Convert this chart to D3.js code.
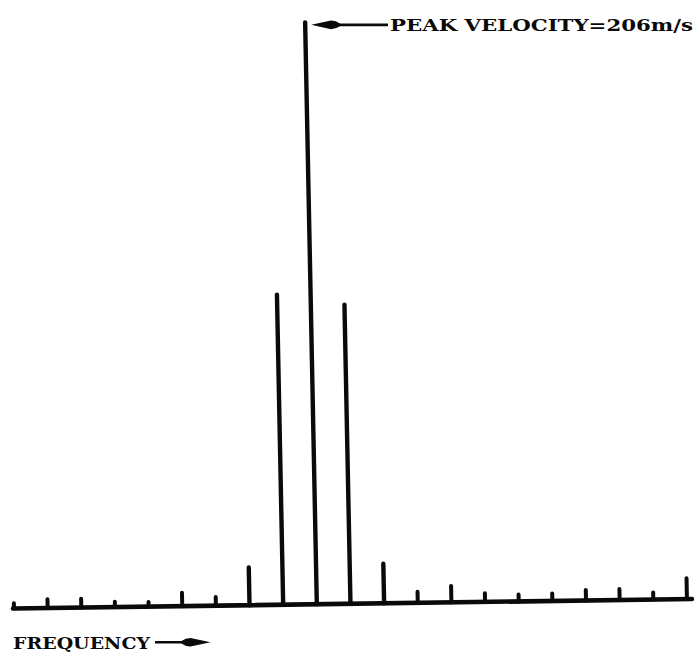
<!DOCTYPE html>
<html>
<head>
<meta charset="utf-8">
<script src="https://cdn.jsdelivr.net/npm/d3@7"></script>
<style>
  html, body { margin: 0; padding: 0; background: #fff; }
  svg { display: block; }
</style>
</head>
<body>
<script>
// Doppler spectrum: relative amplitude of each frequency bin (peak bin = 100)
const bins = [0, 1, 2, 3, 4, 5, 6, 7, 8, 9, 10, 11, 12, 13, 14, 15, 16, 17, 18, 19, 20];
const amplitude = [0.9, 1.5, 1.5, 0.9, 0.8, 2.3, 1.5, 6.5, 53.3, 100, 51.4, 6.8,
                   1.9, 2.8, 1.5, 1.2, 1.3, 1.8, 1.9, 1.2, 3.6];
const peakBin = 9;
const peakLabel = "PEAK VELOCITY=206m/s";
const axisLabel = "FREQUENCY";

const W = 700, H = 658;
const ink = "#0a0a0a";
const font = "'DejaVu Serif', serif";

const svg = d3.select("body").append("svg")
  .attr("width", W).attr("height", H)
  .attr("viewBox", `0 0 ${W} ${H}`);

const x = d3.scaleLinear().domain([bins[0], bins[bins.length - 1]]).range([1, 674]);
const y = d3.scaleLinear().domain([0, 100]).range([0, -582]);

// plot sits on a slightly tilted trace, as on the original recorder paper
const plot = svg.append("g")
  .attr("transform", "translate(13,608.5) rotate(-0.8) skewX(0.35)");

// baseline of the spectrum
plot.append("line")
  .attr("x1", x.range()[0] - 1).attr("x2", x.range()[1] + 5)
  .attr("y1", y(0)).attr("y2", y(0))
  .attr("stroke", ink).attr("stroke-width", 4.6).attr("stroke-linecap", "round");

// one spectral line per frequency bin
plot.selectAll("line.bin")
  .data(amplitude)
  .join("line")
  .attr("class", "bin")
  .attr("x1", (d, i) => x(bins[i])).attr("x2", (d, i) => x(bins[i]))
  .attr("y1", y(0)).attr("y2", d => y(d))
  .attr("stroke", ink)
  .attr("stroke-width", d => d > 5 ? 4.4 : 4)
  .attr("stroke-linecap", "round");

// screen position of the top of the peak line
const m = plot.node().getCTM();
const peakTop = new DOMPoint(x(bins[peakBin]), y(amplitude[peakBin])).matrixTransform(m);

// spindle-shaped arrowhead; dir = -1 points left, +1 points right
function arrowHead(tipX, cy, dir) {
  const p = d3.path();
  p.moveTo(tipX, cy);
  p.lineTo(tipX - dir * 20, cy - 4.3);
  p.quadraticCurveTo(tipX - dir * 25, cy - 4.3, tipX - dir * 29, cy - 1.2);
  p.lineTo(tipX - dir * 29, cy + 1.2);
  p.quadraticCurveTo(tipX - dir * 25, cy + 4.3, tipX - dir * 20, cy + 4.3);
  p.closePath();
  return p.toString();
}

// peak annotation
const labelX = 390, labelBase = 30.5;
const arrowY = peakTop.y + 2.5;
const tipX = peakTop.x + 6;
svg.append("line")
  .attr("x1", tipX + 10).attr("x2", labelX - 2)
  .attr("y1", arrowY).attr("y2", arrowY)
  .attr("stroke", ink).attr("stroke-width", 2.6);
svg.append("path").attr("d", arrowHead(tipX, arrowY, -1)).attr("fill", ink);
svg.append("text")
  .attr("x", labelX).attr("y", labelBase)
  .attr("textLength", 303).attr("lengthAdjust", "spacingAndGlyphs")
  .attr("font-family", font).attr("font-weight", "bold").attr("font-size", 17.5)
  .attr("fill", ink)
  .text(peakLabel);

// frequency axis label with arrow
svg.append("text")
  .attr("x", 13).attr("y", 648.5)
  .attr("textLength", 137).attr("lengthAdjust", "spacingAndGlyphs")
  .attr("font-family", font).attr("font-weight", "bold").attr("font-size", 17.5)
  .attr("fill", ink)
  .text(axisLabel);
const fy = 642.3;
svg.append("line")
  .attr("x1", 155).attr("x2", 195)
  .attr("y1", fy).attr("y2", fy)
  .attr("stroke", ink).attr("stroke-width", 2.4);
svg.append("path").attr("d", arrowHead(210.5, fy, 1)).attr("fill", ink);
</script>
</body>
</html>
